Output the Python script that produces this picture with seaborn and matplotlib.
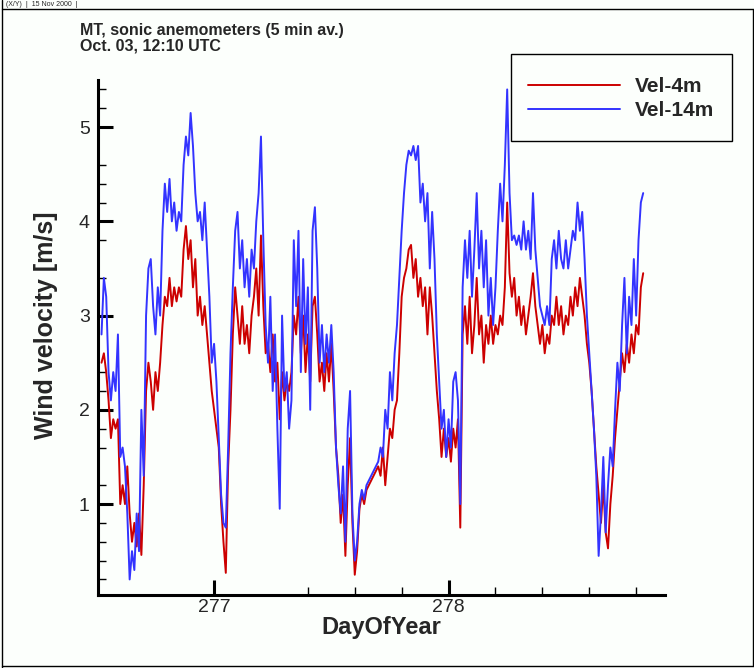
import numpy as np
import pandas as pd
import matplotlib
matplotlib.use("Agg")
import matplotlib.pyplot as plt
from matplotlib.lines import Line2D
from matplotlib.patches import Rectangle
import seaborn as sns

# 5-min sonic anemometer record, sampled every 0.01 day from day 276.52
start_day = 276.52
step_day = 0.01

vel_14m = [
    2.8, 3.4, 3.2, 2.4, 2.1, 2.4, 2.2, 2.8, 1.5, 1.6,
    1.4, 0.9, 0.2, 0.5, 0.3, 0.9, 0.5, 2.0, 1.3, 3.0,
    3.5, 3.6, 3.1, 2.8, 3.3, 3.0, 3.9, 4.4, 4.1, 4.45,
    4.0, 4.2, 3.9, 4.1, 4.0, 4.6, 4.9, 4.7, 5.15, 4.8,
    4.3, 4.0, 4.1, 3.8, 4.2, 3.7, 3.2, 2.5, 2.7, 2.3,
    1.7, 1.1, 0.8, 0.75, 1.6, 2.6, 3.3, 3.9, 4.1, 3.5,
    3.8, 3.3, 3.6, 3.2, 3.7, 3.5, 4.0, 4.3, 4.9, 3.8,
    2.9, 2.5, 3.2, 2.2, 2.8, 1.8, 0.95, 3.0, 2.2, 2.4,
    1.8, 2.1, 3.8, 3.1, 3.9, 2.4, 3.6, 2.7, 3.3, 2.0,
    3.9, 4.15, 3.5, 2.5, 2.9, 2.4, 2.8, 2.5, 2.9, 2.4,
    1.6, 1.2, 0.9, 1.4, 0.6, 1.8, 2.2, 0.9, 0.4, 0.6,
    1.0, 1.15, 1.05, 1.2, 1.25, 1.3, 1.35, 1.4, 1.45, 1.6,
    1.5, 2.0, 1.8, 2.4, 2.1, 2.6, 2.9, 3.4, 3.9, 4.3,
    4.6, 4.75, 4.7, 4.8, 4.65, 4.8, 4.2, 4.4, 4.0, 4.3,
    3.5, 4.1, 3.6, 2.8, 2.3, 1.8, 2.0, 1.5, 1.9, 1.6,
    2.3, 2.4, 2.1, 1.0, 3.3, 3.8, 3.4, 3.9, 3.2, 3.7,
    4.3, 3.5, 3.9, 3.3, 3.8, 3.0, 3.4, 2.9, 3.3, 3.9,
    4.4, 4.0, 4.6, 5.4, 4.3, 3.8, 3.85, 3.75, 3.85, 3.7,
    4.0, 3.7, 3.9, 3.6, 4.3, 3.7, 3.4, 3.1, 3.0, 2.9,
    3.1, 2.9, 3.6, 3.8, 3.5, 3.9, 3.6, 3.5, 3.8, 3.5,
    3.7, 3.9, 3.8, 4.2, 3.9, 4.1, 3.6, 3.0, 2.6, 2.2,
    1.8, 1.3, 0.45, 0.9, 1.5, 0.7, 1.2, 1.6, 1.4, 2.0,
    2.5, 2.2, 2.9, 3.4, 2.6, 3.2, 2.9, 3.6, 3.0, 3.8,
    4.2, 4.3,
]

vel_4m = [
    2.5, 2.6, 2.4, 2.1, 1.7, 1.9, 1.8, 1.9, 1.0, 1.2,
    1.0, 1.4, 0.9, 0.6, 0.8, 0.55, 0.9, 0.46, 1.2, 2.2,
    2.5, 2.3, 2.0, 2.4, 2.2, 2.5, 2.9, 3.2, 3.1, 3.4,
    3.1, 3.3, 3.15, 3.3, 3.2, 3.7, 3.95, 3.6, 3.8, 3.3,
    3.6, 3.0, 3.2, 2.9, 3.1, 2.8, 2.5, 2.2, 2.0, 1.8,
    1.6, 1.0, 0.6, 0.27, 1.4, 2.0, 2.8, 3.3, 3.0, 2.7,
    3.1, 2.7, 2.9, 2.6, 3.0, 3.2, 3.5, 3.0, 3.85, 3.1,
    2.6, 2.7, 2.4, 2.8, 2.3, 2.5, 1.9, 2.4, 2.1, 2.3,
    2.2, 2.4, 3.0, 2.8, 3.2, 2.6, 3.0, 2.4, 2.8, 2.3,
    3.1, 3.2, 2.8, 2.3, 2.5, 2.2, 2.6, 2.3, 2.7, 2.2,
    1.6, 1.3, 0.8, 1.1, 0.45, 1.2, 1.7, 0.8, 0.25, 0.5,
    0.95, 1.1, 1.0, 1.15, 1.2, 1.25, 1.3, 1.35, 1.4, 1.3,
    1.6, 1.2, 1.5, 1.8, 1.7, 2.0, 2.1, 2.6, 3.2, 3.4,
    3.5, 3.7, 3.75, 3.4, 3.6, 3.2, 3.4, 3.1, 3.3, 2.8,
    3.3, 3.0, 2.6, 2.2, 1.9, 1.5, 1.8, 1.5, 1.7, 1.45,
    1.8, 1.6, 1.9, 0.75, 2.8, 3.1, 2.7, 3.2, 2.6, 2.9,
    3.4, 2.8, 3.0, 2.5, 2.9, 2.7, 3.0, 2.7, 2.9, 2.8,
    3.0, 2.9, 3.3, 4.2, 3.45, 3.2, 3.4, 3.0, 3.2, 2.9,
    3.1, 2.8, 3.0, 3.2, 3.45, 3.1, 2.9, 2.7, 2.9, 2.6,
    2.8, 2.7, 3.0, 2.9, 3.2, 2.9, 3.1, 2.8, 3.0, 2.9,
    3.2, 3.0, 3.3, 3.1, 3.4, 3.2, 3.0, 2.7, 2.5, 2.2,
    1.8, 1.4, 1.1, 0.8, 1.2, 0.7, 0.53, 1.0, 1.3, 1.7,
    2.0, 2.3, 2.6, 2.4, 2.7, 2.5, 2.8, 2.6, 2.9, 2.8,
    3.3, 3.45,
]

series_names = ["Vel-4m", "Vel-14m"]
series_colors = ["#cc0000", "#3333ff"]
x_major = [277, 278]
x_minor = [277.4, 277.6, 277.8, 278.2, 278.4, 278.6, 278.8]
y_major = [1, 2, 3, 4, 5]
y_minor = [0.2, 0.4, 0.6, 0.8, 1.2, 1.6, 1.8, 2.2, 2.4, 3.4, 3.8, 4.2, 4.4, 4.6, 5.2, 5.4]

day = start_day + step_day * np.arange(len(vel_4m))
df = pd.DataFrame({"DayOfYear": day, "Vel-4m": vel_4m, "Vel-14m": vel_14m})
long = df.melt(id_vars="DayOfYear", var_name="series", value_name="vel")

sns.set_style("white")
plt.rcParams["font.family"] = ["Liberation Sans", "DejaVu Sans"]
bg = "#fcfffc"

W, H = 754, 668
fig = plt.figure(figsize=(W / 100, H / 100), dpi=100, facecolor=bg)
ax = fig.add_axes([98 / W, 1 - 595 / H, 567 / W, 515 / H], facecolor=bg)

sns.lineplot(data=long, x="DayOfYear", y="vel", hue="series", hue_order=series_names,
             palette=series_colors, estimator=None, linewidth=1.4, ax=ax)

ax.set_xlim(276.505, 278.923)
ax.set_ylim(0.035, 5.5)
ax.set_xticks(x_major)
ax.set_xticks(x_minor, minor=True)
ax.set_yticks(y_major)
ax.set_yticks(y_minor, minor=True)
ax.tick_params(which="both", bottom=True, left=True, top=False, right=False)
ax.tick_params(which="major", direction="in", length=11, width=2.2, labelsize=14, color="black")
ax.tick_params(which="minor", direction="in", length=5.5, width=1.0, color="black")
ax.tick_params(axis="y", which="major", pad=6)
ax.tick_params(axis="x", which="major", pad=3)
for s in ["top", "right"]:
    ax.spines[s].set_visible(False)
for s in ["left", "bottom"]:
    ax.spines[s].set_linewidth(2.2)
    ax.spines[s].set_color("black")

ax.set_xlabel("DayOfYear", fontsize=17, fontweight="bold")
ax.set_ylabel("Wind velocity [m/s]", fontsize=18, fontweight="bold")
ax.xaxis.set_label_coords(0.5, -0.040)
ax.yaxis.set_label_coords(-0.07, 0.524)

handles, labels = ax.get_legend_handles_labels()
ax.get_legend().remove()
fig.legend(handles, labels, loc="upper left", bbox_to_anchor=(528 / W, 1 - 77 / H),
           frameon=False, borderpad=0, borderaxespad=0, handlelength=4.4,
           handletextpad=0.75, labelspacing=0.25,
           prop={"size": 15, "weight": "bold"})
fig.add_artist(Rectangle((511 / W, 1 - 141 / H), 221 / W, 87 / H, transform=fig.transFigure,
                         fill=False, edgecolor="black", linewidth=1.0))

fig.text(80 / W, 1 - 31 / H, "MT, sonic anemometers (5 min av.)", fontsize=11.5,
         fontweight="bold", va="center")
fig.text(80 / W, 1 - 46 / H, "Oct. 03, 12:10 UTC", fontsize=11.5, fontweight="bold", va="center")
fig.text(6 / W, 1 - 4 / H, "(X/Y)  |  15 Nov 2000  |", fontsize=5, va="center")

# page frame
for xs, ys in [((1.5 / W, 1.5 / W), (0, 1)),
               ((1.5 / W, 753 / W), (1 - 9 / H, 1 - 9 / H)),
               ((753 / W, 753 / W), (1 - 9 / H, 1 - 666 / H)),
               ((1.5 / W, 753 / W), (1 - 666 / H, 1 - 666 / H))]:
    fig.add_artist(Line2D(xs, ys, transform=fig.transFigure, color="black", linewidth=1.0))

fig.savefig("out.png", dpi=100, facecolor=bg)
plt.close(fig)
